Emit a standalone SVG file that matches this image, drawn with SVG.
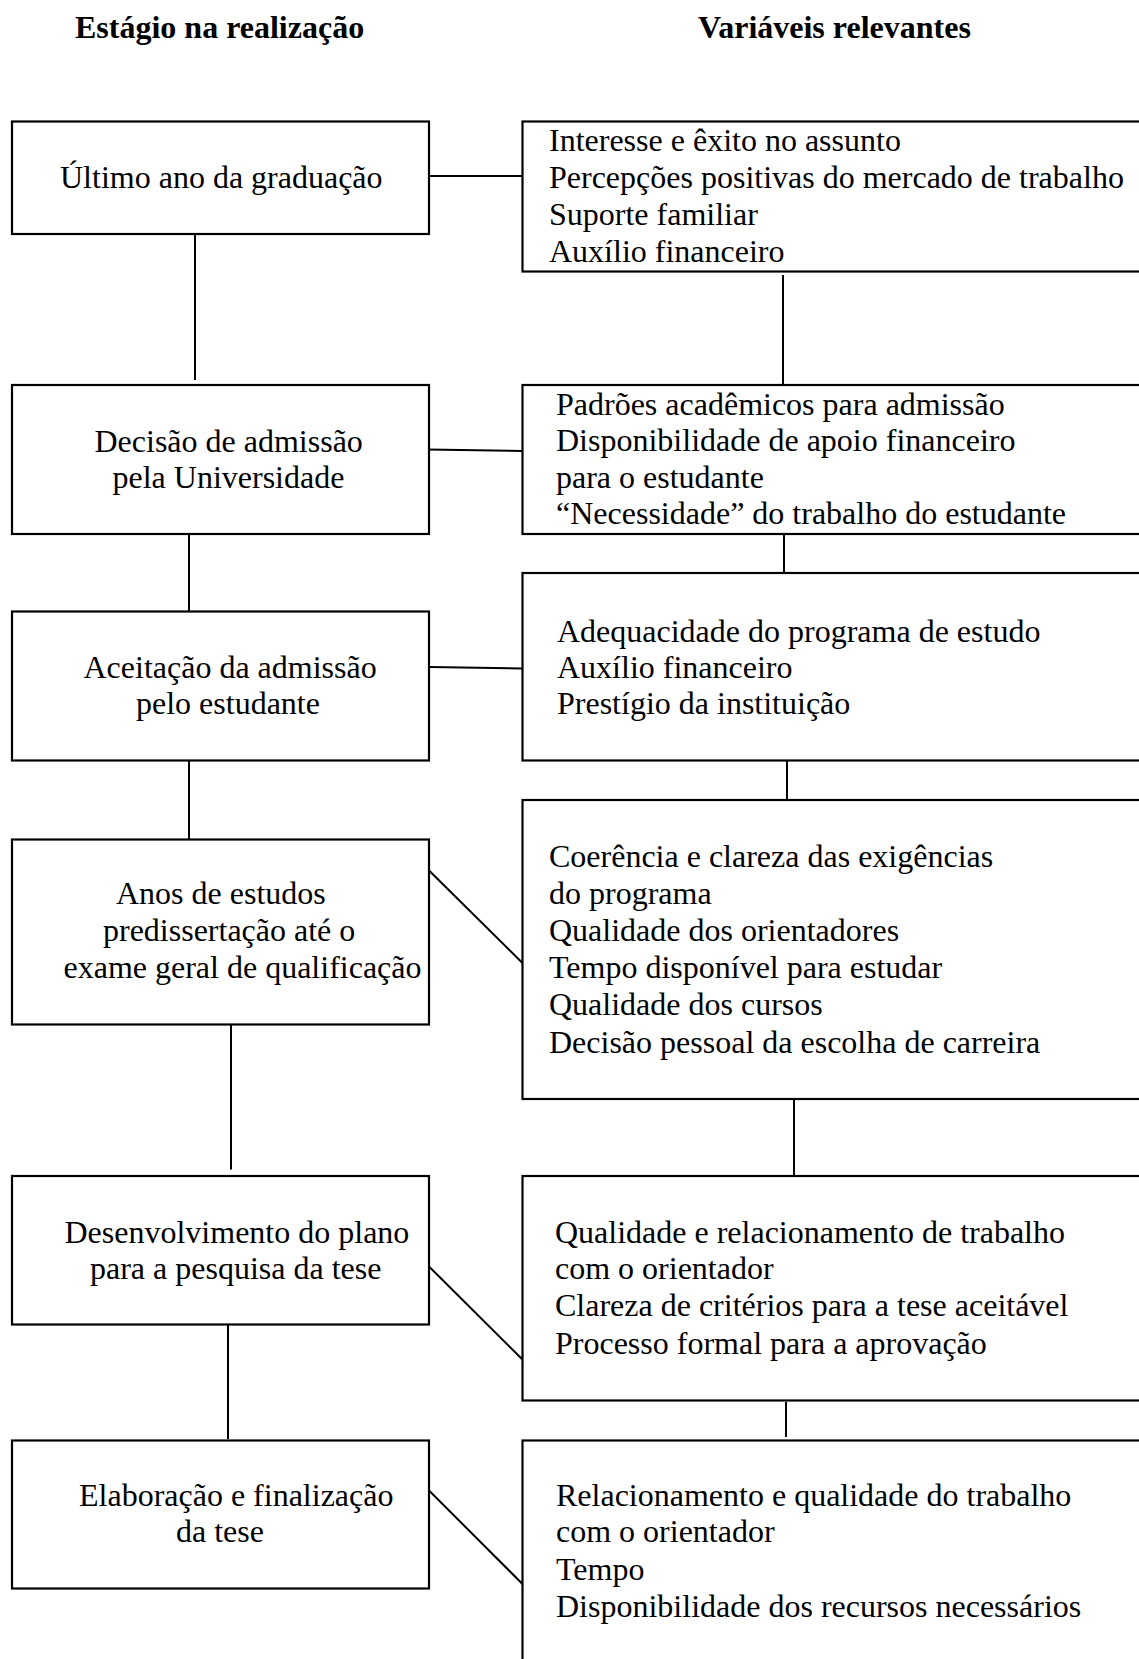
<svg xmlns="http://www.w3.org/2000/svg" width="1139" height="1659" viewBox="0 0 1139 1659">
<style>
  .bg { fill: #ffffff; }
  .box { fill: #ffffff; stroke: #000000; stroke-width: 2.2; }
  .conn { stroke: #000000; stroke-width: 2; fill: none; }
  .t { font-family: "Liberation Serif", "Times New Roman", serif; font-size: 32px; fill: #000000; }
  .h { font-family: "Liberation Serif", "Times New Roman", serif; font-size: 32px; font-weight: bold; fill: #000000; }
</style>
<rect class="bg" x="0" y="0" width="1139" height="1659"/>

<g id="headers">
  <text class="h" x="75" y="38">Estágio na realização</text>
  <text class="h" x="698" y="38">Variáveis relevantes</text>
</g>

<g id="connectors">
  <line class="conn" x1="426" y1="176" x2="523" y2="176"/>
  <line class="conn" x1="195" y1="234" x2="195" y2="380"/>
  <line class="conn" x1="783" y1="275" x2="783" y2="385"/>
  <line class="conn" x1="427" y1="449.5" x2="522" y2="451"/>
  <line class="conn" x1="189" y1="534" x2="189" y2="611"/>
  <line class="conn" x1="784" y1="534" x2="784" y2="573"/>
  <line class="conn" x1="430" y1="667" x2="522" y2="668.5"/>
  <line class="conn" x1="189" y1="761" x2="189" y2="839"/>
  <line class="conn" x1="787" y1="758" x2="787" y2="800"/>
  <line class="conn" x1="427" y1="868.5" x2="522.5" y2="963"/>
  <line class="conn" x1="231" y1="1020" x2="231" y2="1169.5"/>
  <line class="conn" x1="794" y1="1099" x2="794" y2="1176"/>
  <line class="conn" x1="427" y1="1264.5" x2="522.5" y2="1359.5"/>
  <line class="conn" x1="228" y1="1325" x2="228" y2="1439"/>
  <line class="conn" x1="786" y1="1402" x2="786" y2="1437"/>
  <line class="conn" x1="427" y1="1488.5" x2="522.5" y2="1584"/>
</g>

<g id="stage1">
  <rect class="box" x="12" y="121.5" width="417" height="112.5"/>
  <text class="t" x="60" y="187.5">Último ano da graduação</text>
</g>
<g id="stage2">
  <rect class="box" x="12" y="385" width="417" height="149"/>
  <text class="t" x="94.5" y="451.5">Decisão de admissão</text>
  <text class="t" x="112.5" y="487.5">pela Universidade</text>
</g>
<g id="stage3">
  <rect class="box" x="12" y="611.5" width="417" height="149"/>
  <text class="t" x="83.5" y="677.5">Aceitação da admissão</text>
  <text class="t" x="136" y="714">pelo estudante</text>
</g>
<g id="stage4">
  <rect class="box" x="12" y="839.5" width="417" height="185"/>
  <text class="t" x="116" y="904">Anos de estudos</text>
  <text class="t" x="103" y="941">predissertação até o</text>
  <text class="t" x="63.5" y="977.5">exame geral de qualificação</text>
</g>
<g id="stage5">
  <rect class="box" x="12" y="1176" width="417" height="148.5"/>
  <text class="t" x="64.5" y="1242.5">Desenvolvimento do plano</text>
  <text class="t" x="90" y="1278.5">para a pesquisa da tese</text>
</g>
<g id="stage6">
  <rect class="box" x="12" y="1440.5" width="417" height="148"/>
  <text class="t" x="79" y="1505.5">Elaboração e finalização</text>
  <text class="t" x="176" y="1542">da tese</text>
</g>

<g id="vars1">
  <rect class="box" x="522.5" y="121.5" width="650" height="150"/>
  <text class="t" x="549" y="150.5">Interesse e êxito no assunto</text>
  <text class="t" x="549" y="187.5">Percepções positivas do mercado de trabalho</text>
  <text class="t" x="549" y="224.5">Suporte familiar</text>
  <text class="t" x="549" y="262">Auxílio financeiro</text>
</g>
<g id="vars2">
  <rect class="box" x="522.5" y="385" width="650" height="149"/>
  <text class="t" x="556" y="414.5">Padrões acadêmicos para admissão</text>
  <text class="t" x="556" y="451">Disponibilidade de apoio financeiro</text>
  <text class="t" x="556" y="487.5">para o estudante</text>
  <text class="t" x="556" y="523.5">“Necessidade” do trabalho do estudante</text>
</g>
<g id="vars3">
  <rect class="box" x="522.5" y="573" width="650" height="187.5"/>
  <text class="t" x="557" y="641.5">Adequacidade do programa de estudo</text>
  <text class="t" x="557" y="677.5">Auxílio financeiro</text>
  <text class="t" x="557" y="714">Prestígio da instituição</text>
</g>
<g id="vars4">
  <rect class="box" x="522.5" y="800" width="650" height="299"/>
  <text class="t" x="549" y="867">Coerência e clareza das exigências</text>
  <text class="t" x="549" y="904">do programa</text>
  <text class="t" x="549" y="940.5">Qualidade dos orientadores</text>
  <text class="t" x="549" y="977.5">Tempo disponível para estudar</text>
  <text class="t" x="549" y="1015">Qualidade dos cursos</text>
  <text class="t" x="549" y="1052.5">Decisão pessoal da escolha de carreira</text>
</g>
<g id="vars5">
  <rect class="box" x="522.5" y="1176" width="650" height="224.5"/>
  <text class="t" x="555" y="1242.5">Qualidade e relacionamento de trabalho</text>
  <text class="t" x="555" y="1279">com o orientador</text>
  <text class="t" x="555" y="1315.5">Clareza de critérios para a tese aceitável</text>
  <text class="t" x="555" y="1354">Processo formal para a aprovação</text>
</g>
<g id="vars6">
  <rect class="box" x="522.5" y="1440.5" width="650" height="260"/>
  <text class="t" x="556" y="1505.5">Relacionamento e qualidade do trabalho</text>
  <text class="t" x="556" y="1542">com o orientador</text>
  <text class="t" x="556" y="1579.5">Tempo</text>
  <text class="t" x="556" y="1617">Disponibilidade dos recursos necessários</text>
</g>
</svg>
